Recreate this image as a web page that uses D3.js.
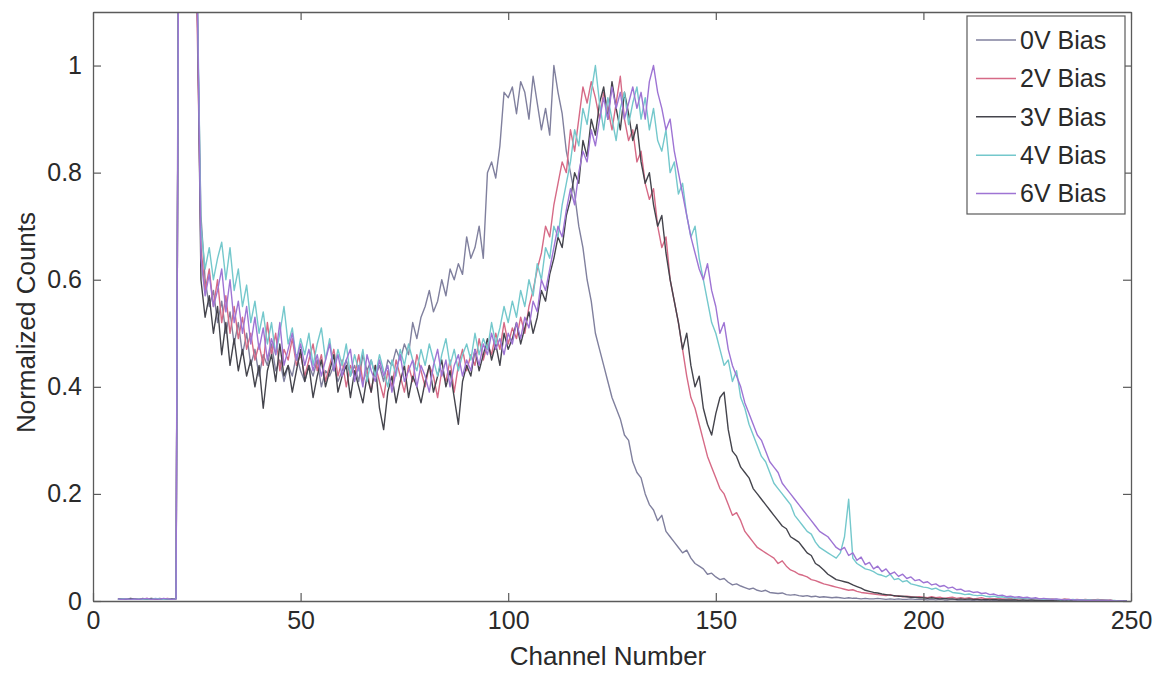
<!DOCTYPE html>
<html>
<head>
<meta charset="utf-8">
<script src="https://cdn.jsdelivr.net/npm/d3@7"></script>
<style>
  html, body { margin: 0; padding: 0; background: #fff; }
  svg { display: block; }
  text { font-family: "Liberation Sans", Arial, sans-serif; fill: #2a2a2a; }
</style>
</head>
<body>
<svg id="chart" width="1161" height="674"></svg>
<script>
// ---- data ----
const startChannel = 6;   // first channel in every series (one value per channel)
const seriesNames = ["0V Bias", "2V Bias", "3V Bias", "4V Bias", "6V Bias"];
const seriesColors = ["#80809e", "#d66a86", "#44444c", "#74c8cc", "#9e74d4"];
const xTicks = [0, 50, 100, 150, 200, 250];
const yTicks = [0, 0.2, 0.4, 0.6, 0.8, 1];
const yTickLabels = ["0", "0.2", "0.4", "0.6", "0.8", "1"];

const bias0V = [
  0.003,0.004,0.003,0.004,
  0.004,0.003,0.005,0.003,0.004,0.003,0.005,0.004,0.003,0.004,
  0.005,2.2,2.0,1.7,1.4,1.15,0.72,0.6,0.55,0.58,
  0.52,0.56,0.5,0.54,0.48,0.52,0.46,0.5,0.44,0.47,
  0.42,0.46,0.44,0.48,0.43,0.45,0.41,0.44,0.42,0.46,
  0.43,0.41,0.44,0.42,0.45,0.4,0.43,0.42,0.44,0.41,
  0.43,0.45,0.42,0.44,0.41,0.46,0.43,0.45,0.42,0.44,
  0.41,0.45,0.44,0.47,0.45,0.48,0.46,0.52,0.49,0.53,
  0.55,0.58,0.54,0.56,0.6,0.57,0.62,0.6,0.63,0.61,
  0.68,0.64,0.66,0.7,0.64,0.8,0.82,0.79,0.85,0.95,
  0.94,0.96,0.91,0.97,0.95,0.9,0.98,0.93,0.88,0.92,
  0.87,1.0,0.95,0.91,0.84,0.8,0.76,0.7,0.66,0.6,
  0.56,0.5,0.47,0.44,0.41,0.38,0.36,0.34,0.31,0.3,
  0.26,0.24,0.23,0.2,0.18,0.17,0.15,0.16,0.13,0.12,
  0.11,0.1,0.09,0.095,0.08,0.07,0.065,0.06,0.05,0.052,
  0.045,0.04,0.042,0.035,0.03,0.032,0.028,0.025,0.022,0.024,
  0.02,0.018,0.02,0.016,0.015,0.014,0.015,0.012,0.011,0.012,
  0.01,0.009,0.01,0.008,0.009,0.007,0.008,0.007,0.006,0.007,
  0.006,0.005,0.006,0.005,0.005,0.004,0.005,0.004,0.004,0.005,
  0.004,0.003,0.004,0.003,0.004,0.003,0.003,0.004,0.003,0.003,
  0.003,0.002,0.003,0.002,0.003,0.002,0.002,0.003,0.002,0.002,
  0.002,0.002,0.001,0.002,0.002,0.001,0.002,0.001,0.001,0.002,
  0.001,0.001,0.002,0.001,0.001,0.001,0.001,0.002,0.001,0.001,
  0.001,0.001,0.001,0.001,0.001,0.001,0.001,0.001,0.001,0.001,
  0.001,0.001,0.001,0.001,0.001,0.001,0,0,0,0
];
const bias2V = [
  0.004,0.003,0.004,0.003,
  0.003,0.004,0.003,0.005,0.003,0.004,0.003,0.004,0.005,0.003,
  0.004,2.0,1.9,1.6,1.3,1.12,0.66,0.58,0.62,0.55,
  0.6,0.52,0.57,0.5,0.55,0.49,0.53,0.47,0.5,0.45,
  0.48,0.44,0.52,0.46,0.5,0.43,0.47,0.45,0.49,0.44,
  0.46,0.42,0.45,0.48,0.43,0.46,0.41,0.44,0.47,0.42,
  0.45,0.4,0.44,0.42,0.46,0.41,0.43,0.39,0.44,0.41,
  0.38,0.43,0.4,0.45,0.42,0.39,0.44,0.41,0.46,0.43,
  0.4,0.44,0.42,0.38,0.43,0.41,0.45,0.39,0.44,0.47,
  0.43,0.46,0.44,0.49,0.45,0.48,0.46,0.5,0.47,0.52,
  0.48,0.51,0.49,0.53,0.5,0.55,0.58,0.62,0.65,0.7,
  0.68,0.74,0.78,0.82,0.8,0.88,0.84,0.9,0.96,0.93,
  0.97,0.94,0.9,0.95,0.92,0.88,0.93,0.98,0.9,0.86,
  0.88,0.82,0.84,0.78,0.75,0.77,0.7,0.66,0.68,0.6,
  0.56,0.52,0.47,0.42,0.38,0.36,0.33,0.3,0.27,0.25,
  0.23,0.21,0.2,0.18,0.16,0.165,0.15,0.13,0.12,0.11,
  0.1,0.095,0.09,0.085,0.08,0.07,0.075,0.065,0.058,0.055,
  0.05,0.048,0.045,0.04,0.038,0.035,0.032,0.03,0.028,0.026,
  0.024,0.022,0.02,0.021,0.018,0.016,0.015,0.014,0.013,0.012,
  0.011,0.01,0.012,0.009,0.01,0.008,0.009,0.008,0.007,0.008,
  0.007,0.006,0.008,0.006,0.007,0.005,0.006,0.007,0.005,0.006,
  0.005,0.006,0.004,0.005,0.006,0.004,0.005,0.004,0.005,0.004,
  0.004,0.005,0.003,0.004,0.005,0.003,0.004,0.003,0.004,0.003,
  0.003,0.004,0.003,0.002,0.004,0.003,0.002,0.003,0.002,0.003,
  0.002,0.002,0.003,0.002,0.001,0.002,0,0,0,0
];
const bias3V = [
  0.004,0.004,0.003,0.005,
  0.004,0.003,0.004,0.003,0.005,0.004,0.003,0.004,0.003,0.004,
  0.004,2.0,2.0,1.8,1.5,1.2,0.6,0.53,0.57,0.5,
  0.55,0.46,0.52,0.44,0.49,0.43,0.47,0.42,0.45,0.4,
  0.44,0.36,0.43,0.46,0.41,0.48,0.42,0.44,0.39,0.43,
  0.47,0.41,0.44,0.38,0.42,0.45,0.4,0.43,0.46,0.39,
  0.42,0.44,0.38,0.43,0.4,0.37,0.42,0.39,0.44,0.36,
  0.32,0.39,0.42,0.37,0.41,0.44,0.38,0.42,0.4,0.37,
  0.41,0.44,0.39,0.42,0.45,0.4,0.43,0.38,0.33,0.41,
  0.44,0.42,0.47,0.43,0.46,0.49,0.45,0.48,0.44,0.5,
  0.47,0.49,0.52,0.48,0.51,0.54,0.5,0.53,0.58,0.56,
  0.61,0.64,0.68,0.66,0.72,0.75,0.8,0.78,0.86,0.83,
  0.9,0.87,0.93,0.96,0.9,0.97,0.92,0.88,0.95,0.91,
  0.86,0.89,0.82,0.78,0.8,0.74,0.7,0.72,0.65,0.6,
  0.56,0.52,0.47,0.5,0.44,0.4,0.42,0.36,0.33,0.31,
  0.35,0.38,0.39,0.32,0.28,0.27,0.25,0.24,0.23,0.21,
  0.2,0.19,0.18,0.17,0.16,0.15,0.14,0.135,0.12,0.115,
  0.11,0.1,0.09,0.085,0.07,0.065,0.058,0.05,0.045,0.04,
  0.038,0.036,0.034,0.03,0.027,0.024,0.02,0.018,0.016,0.015,
  0.013,0.012,0.011,0.01,0.009,0.009,0.008,0.007,0.007,0.006,
  0.006,0.005,0.006,0.005,0.004,0.005,0.004,0.004,0.003,0.004,
  0.003,0.004,0.003,0.003,0.002,0.003,0.002,0.003,0.002,0.002,
  0.002,0.002,0.002,0.001,0.002,0.001,0.002,0.001,0.001,0.001,
  0.001,0.001,0.002,0.001,0.001,0.001,0.001,0.001,0.001,0.001,
  0.001,0.001,0.001,0.001,0.001,0,0,0,0,0
];
const bias4V = [
  0.003,0.004,0.004,0.003,
  0.003,0.004,0.003,0.004,0.003,0.005,0.004,0.003,0.004,0.003,
  0.004,2.0,2.0,1.8,1.5,1.2,0.7,0.62,0.66,0.6,
  0.64,0.67,0.6,0.66,0.58,0.62,0.55,0.59,0.52,0.56,
  0.5,0.54,0.48,0.52,0.46,0.5,0.55,0.48,0.51,0.45,
  0.49,0.46,0.5,0.44,0.48,0.51,0.45,0.49,0.43,0.47,
  0.44,0.48,0.42,0.46,0.43,0.47,0.41,0.45,0.42,0.46,
  0.43,0.4,0.45,0.42,0.47,0.44,0.48,0.45,0.43,0.47,
  0.44,0.48,0.45,0.42,0.46,0.49,0.44,0.47,0.43,0.46,
  0.48,0.45,0.5,0.46,0.49,0.47,0.52,0.48,0.51,0.55,
  0.52,0.56,0.53,0.58,0.55,0.6,0.57,0.63,0.6,0.66,
  0.64,0.7,0.68,0.74,0.78,0.82,0.88,0.85,0.92,0.89,
  0.95,1.0,0.93,0.88,0.94,0.9,0.86,0.92,0.95,0.89,
  0.93,0.96,0.9,0.94,0.88,0.92,0.86,0.84,0.88,0.8,
  0.82,0.76,0.78,0.72,0.68,0.7,0.64,0.6,0.56,0.52,
  0.5,0.47,0.44,0.45,0.41,0.43,0.38,0.36,0.33,0.31,
  0.29,0.27,0.26,0.24,0.22,0.21,0.2,0.19,0.18,0.16,
  0.15,0.14,0.13,0.125,0.11,0.1,0.095,0.09,0.085,0.08,
  0.09,0.12,0.19,0.08,0.07,0.065,0.06,0.058,0.055,0.05,
  0.048,0.045,0.05,0.04,0.042,0.036,0.038,0.032,0.03,0.028,
  0.026,0.025,0.022,0.024,0.02,0.018,0.02,0.016,0.015,0.014,
  0.012,0.013,0.011,0.01,0.011,0.009,0.008,0.009,0.007,0.008,
  0.006,0.007,0.005,0.006,0.005,0.004,0.005,0.004,0.004,0.003,
  0.004,0.003,0.003,0.002,0.003,0.002,0.003,0.002,0.002,0.002,
  0.002,0.001,0.002,0.001,0.001,0.001,0.001,0,0,0
];
const bias6V = [
  0.004,0.003,0.004,0.003,
  0.004,0.003,0.004,0.005,0.003,0.004,0.003,0.005,0.004,0.003,
  0.004,2.0,2.0,1.8,1.5,1.2,0.64,0.57,0.61,0.55,
  0.58,0.62,0.54,0.6,0.52,0.56,0.5,0.55,0.48,0.53,
  0.47,0.51,0.45,0.49,0.46,0.52,0.44,0.47,0.5,0.45,
  0.48,0.44,0.47,0.43,0.46,0.42,0.45,0.48,0.43,0.46,
  0.42,0.45,0.47,0.41,0.44,0.4,0.46,0.43,0.41,0.45,
  0.42,0.44,0.39,0.43,0.46,0.41,0.43,0.45,0.4,0.44,
  0.42,0.39,0.44,0.47,0.42,0.45,0.4,0.44,0.46,0.42,
  0.45,0.43,0.47,0.44,0.48,0.46,0.5,0.47,0.49,0.46,
  0.5,0.48,0.52,0.49,0.53,0.51,0.56,0.54,0.6,0.58,
  0.62,0.66,0.7,0.68,0.73,0.77,0.74,0.8,0.84,0.82,
  0.88,0.85,0.9,0.94,0.9,0.96,0.92,0.95,0.9,0.93,
  0.96,0.92,0.95,0.9,0.97,1.0,0.95,0.92,0.88,0.9,
  0.84,0.8,0.76,0.72,0.68,0.65,0.62,0.6,0.63,0.58,
  0.55,0.5,0.52,0.47,0.44,0.42,0.4,0.37,0.35,0.33,
  0.31,0.3,0.28,0.26,0.25,0.24,0.22,0.21,0.2,0.19,
  0.18,0.17,0.16,0.15,0.14,0.13,0.125,0.12,0.11,0.1,
  0.095,0.1,0.085,0.09,0.076,0.082,0.068,0.072,0.06,0.065,
  0.055,0.06,0.05,0.054,0.046,0.05,0.042,0.045,0.038,0.04,
  0.034,0.036,0.03,0.032,0.027,0.029,0.024,0.026,0.021,0.022,
  0.018,0.019,0.016,0.017,0.014,0.015,0.012,0.013,0.01,0.011,
  0.008,0.009,0.007,0.008,0.006,0.007,0.005,0.006,0.004,0.005,
  0.004,0.003,0.004,0.003,0.002,0.003,0.002,0.002,0.002,0.001,
  0.001,0.001,0.001,0.001,0.001,0.001,0,0,0,0
];
const seriesValues = [bias0V, bias2V, bias3V, bias4V, bias6V];

// ---- layout ----
const svg = d3.select("#chart");
const m = { left: 93, right: 1131, top: 12, bottom: 601 };
const x = d3.scaleLinear().domain([0, 250]).range([m.left, m.right]);
const y = d3.scaleLinear().domain([0, 1.1]).range([m.bottom, m.top]);
const axisColor = "#5a5a5a";

svg.append("defs").append("clipPath").attr("id", "plotclip")
  .append("rect").attr("x", m.left).attr("y", m.top)
  .attr("width", m.right - m.left).attr("height", m.bottom - m.top);

// lines
const line = d3.line()
  .x((d, i) => x(startChannel + i))
  .y(d => y(d));
const linesG = svg.append("g").attr("clip-path", "url(#plotclip)");
seriesValues.forEach((vals, k) => {
  linesG.append("path")
    .attr("d", line(vals))
    .attr("fill", "none")
    .attr("stroke", seriesColors[k])
    .attr("stroke-width", 1.4)
    .attr("stroke-linejoin", "round");
});

// axes (MATLAB style: inward ticks on all four sides)
const tickLen = 8;
const axB = svg.append("g").attr("transform", `translate(0,${m.bottom})`)
  .call(d3.axisBottom(x).tickValues(xTicks).tickSizeInner(-tickLen).tickSizeOuter(0).tickPadding(10));
const axT = svg.append("g").attr("transform", `translate(0,${m.top})`)
  .call(d3.axisTop(x).tickValues(xTicks).tickSizeInner(-tickLen).tickSizeOuter(0).tickFormat(""));
const axL = svg.append("g").attr("transform", `translate(${m.left},0)`)
  .call(d3.axisLeft(y).tickValues(yTicks).tickSizeInner(-tickLen).tickSizeOuter(0).tickPadding(11)
    .tickFormat((d, i) => yTickLabels[i]));
const axR = svg.append("g").attr("transform", `translate(${m.right},0)`)
  .call(d3.axisRight(y).tickValues(yTicks).tickSizeInner(-tickLen).tickSizeOuter(0).tickFormat(""));
[axB, axT, axL, axR].forEach(a => {
  a.selectAll("path.domain").attr("stroke", axisColor).attr("stroke-width", 1.3);
  a.selectAll(".tick line").attr("stroke", axisColor).attr("stroke-width", 1.2);
  a.selectAll(".tick text").style("font-family", "'Liberation Sans', Arial, sans-serif")
    .style("font-size", "25px").attr("fill", "#2a2a2a");
});

// axis titles
svg.append("text").attr("x", 608).attr("y", 665)
  .attr("text-anchor", "middle").style("font-size", "26px").text("Channel Number");
svg.append("text").attr("transform", `translate(35,${(m.top + m.bottom) / 2 + 16}) rotate(-90)`)
  .attr("text-anchor", "middle").style("font-size", "26px").text("Normalized Counts");

// legend
const lg = svg.append("g");
const lgX = 967, lgY = 16, lgW = 158, lgH = 198, rowH = 38.4;
lg.append("rect").attr("x", lgX).attr("y", lgY).attr("width", lgW).attr("height", lgH)
  .attr("fill", "#fff").attr("stroke", axisColor).attr("stroke-width", 1.2);
seriesNames.forEach((name, k) => {
  const cy = lgY + 24 + k * rowH;
  lg.append("line").attr("x1", lgX + 9).attr("x2", lgX + 49).attr("y1", cy).attr("y2", cy)
    .attr("stroke", seriesColors[k]).attr("stroke-width", 1.5);
  lg.append("text").attr("x", lgX + 53).attr("y", cy).attr("dy", "0.35em")
    .style("font-size", "25px").text(name);
});
</script>
</body>
</html>
